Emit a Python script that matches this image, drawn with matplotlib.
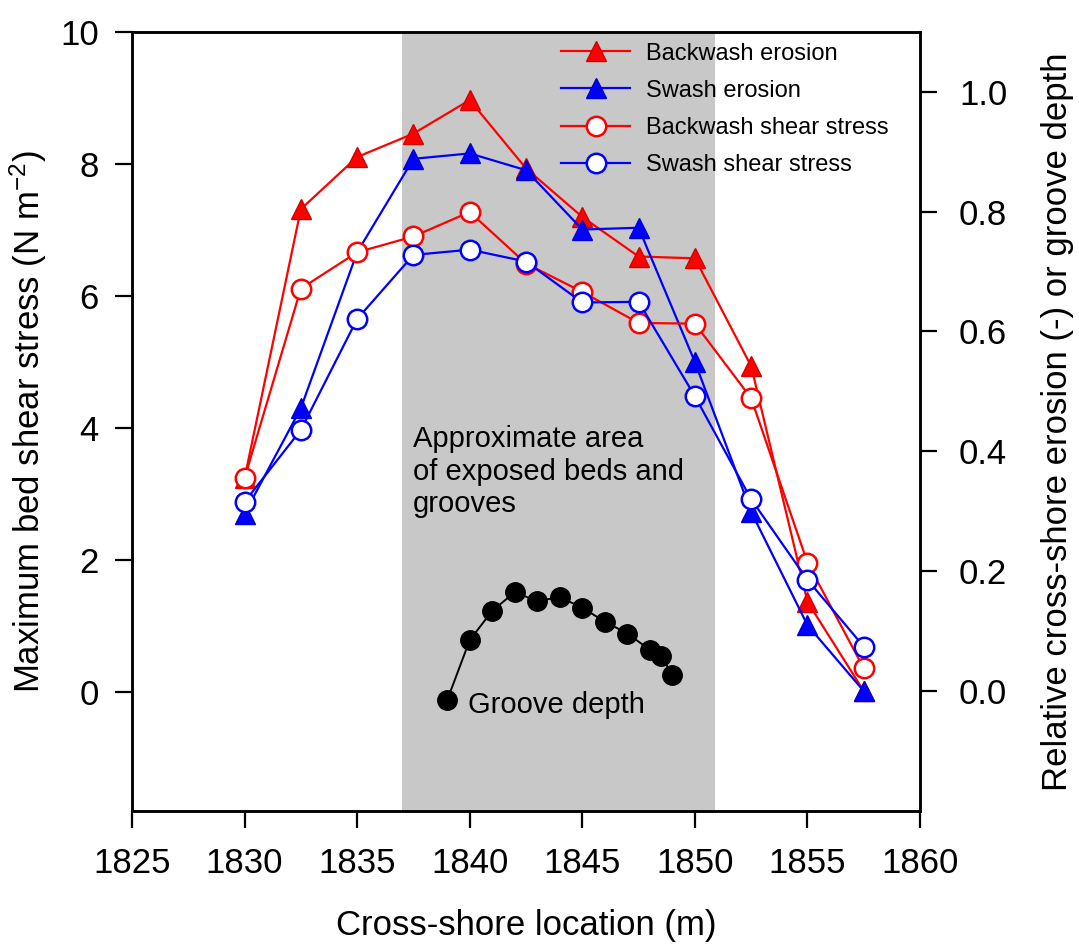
import numpy as np
import matplotlib
matplotlib.use("Agg")
import matplotlib.pyplot as plt
from matplotlib.ticker import FormatStrFormatter

plt.rcParams["font.family"] = ["Liberation Sans", "DejaVu Sans"]
plt.rcParams["mathtext.fontset"] = "custom"
plt.rcParams["mathtext.rm"] = "Liberation Sans"
plt.rcParams["mathtext.default"] = "regular"

# Cross-shore positions of the measurements (m)
location = [1830, 1832.5, 1835, 1837.5, 1840, 1842.5, 1845, 1847.5, 1850, 1852.5, 1855, 1857.5]

# Relative cross-shore erosion (-)
backwash_erosion = [0.355, 0.804, 0.891, 0.930, 0.986, 0.872, 0.791, 0.725, 0.722, 0.542, 0.149, 0.0]
swash_erosion = [0.296, 0.472, 0.732, 0.888, 0.897, 0.869, 0.770, 0.773, 0.549, 0.299, 0.110, 0.0]

# Maximum bed shear stress (N m-2)
backwash_shear = [3.24, 6.11, 6.66, 6.90, 7.27, 6.49, 6.06, 5.59, 5.58, 4.45, 1.96, 0.36]
swash_shear = [2.88, 3.97, 5.65, 6.62, 6.70, 6.52, 5.90, 5.91, 4.48, 2.92, 1.70, 0.69]

# Groove depth (relative)
groove_x = [1839, 1840, 1841, 1842, 1843, 1844, 1845, 1846, 1847, 1848, 1848.5, 1849]
groove_depth = [-0.015, 0.085, 0.134, 0.165, 0.150, 0.157, 0.139, 0.116, 0.096, 0.069, 0.059, 0.027]

# Exposed beds / grooves zone
zone_start, zone_end = 1837, 1850.9

red = "#ff0000"
red_edge = "#d40000"
blue = "#0000ff"
blue_edge = "#0000d0"

fig = plt.figure(figsize=(10.79, 9.47), dpi=100)
ax = fig.add_axes([0.1223, 0.1436, 0.7304, 0.8229])
ax2 = ax.twinx()

# shear stress axis drawn on top of the erosion axis
ax.set_zorder(ax2.get_zorder() + 1)
ax.patch.set_visible(False)

ax2.axvspan(zone_start, zone_end, color="#c8c8c8", lw=0, zorder=0)

# erosion (right axis)
l1, = ax2.plot(location, backwash_erosion, color=red, lw=1.6, marker="^", ms=15,
               mfc=red, mec=red_edge, mew=1, label="Backwash erosion")
marks = [i for i in range(len(location)) if i != 2]
l2, = ax2.plot(location, swash_erosion, color=blue, lw=1.6, marker="^", ms=15,
               mfc=blue, mec=blue_edge, mew=1, markevery=marks, label="Swash erosion")
ax2.plot(groove_x, groove_depth, color="black", lw=1.4, marker="o", ms=14,
         mfc="black", mec="black")

# shear stress (left axis)
l3, = ax.plot(location, backwash_shear, color=red, lw=1.6, marker="o", ms=14,
              mfc="white", mec=red, mew=1.8, label="Backwash shear stress")
l4, = ax.plot(location, swash_shear, color=blue, lw=1.6, marker="o", ms=14,
              mfc="white", mec=blue, mew=1.8, label="Swash shear stress")

ax.set_xlim(1825, 1860)
ax.set_ylim(-1.8, 10)
ax2.set_ylim(-0.2, 1.1)
ax.set_xticks(np.arange(1825, 1861, 5))
ax.set_yticks(np.arange(0, 11, 2))
ax2.set_yticks(np.arange(0, 1.01, 0.2))
ax2.yaxis.set_major_formatter(FormatStrFormatter("%.1f"))

for a in (ax, ax2):
    for s in a.spines.values():
        s.set_linewidth(1.8)
ax.tick_params(axis="x", direction="out", length=12, width=1.6, labelsize=25, pad=14)
ax.tick_params(axis="y", direction="out", length=12, width=1.6, labelsize=25, pad=12)
ax2.tick_params(axis="y", direction="out", length=12, width=1.6, labelsize=25, pad=16)

ax.set_xlabel("Cross-shore location (m)", fontsize=25, labelpad=21)
ax.set_ylabel("Maximum bed shear stress (N m$^{-2}$)", fontsize=25, labelpad=8)
ax2.set_ylabel("Relative cross-shore erosion (-) or groove depth", fontsize=25, labelpad=24)

ax.text(1837.48, 4.05, "Approximate area\nof exposed beds and\ngrooves", fontsize=21,
        ha="left", va="top", linespacing=1.22)
ax.text(1839.93, -0.19, "Groove depth", fontsize=21, ha="left", va="center")

ax.legend(handles=[l1, l2, l3, l4], loc="upper left", bbox_to_anchor=(0.545, 0.986),
          frameon=False, fontsize=17, handlelength=2.9, handletextpad=0.7,
          labelspacing=0.64, borderpad=0, borderaxespad=0)

fig.savefig("out.png", dpi=100)
